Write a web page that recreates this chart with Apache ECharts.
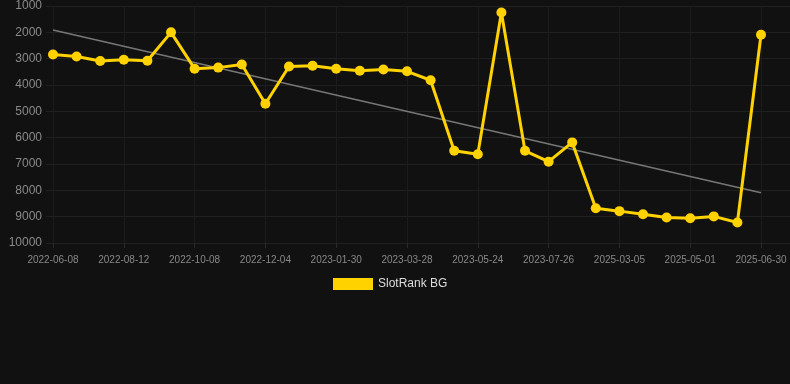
<!DOCTYPE html>
<html>
<head>
<meta charset="utf-8">
<script src="https://cdn.jsdelivr.net/npm/echarts@6/dist/echarts.min.js"></script>
<style>
  html, body { margin: 0; padding: 0; background: #111111; }
  #chart { width: 790px; height: 384px; }
</style>
</head>
<body>
<div id="chart"></div>
<script>
// 日期（只显示每隔三个的标签）
var dates = [
    '2022-06-08', '2022-06-30', '2022-07-22', '2022-08-12', '2022-08-31', '2022-09-19',
    '2022-10-08', '2022-10-27', '2022-11-15', '2022-12-04', '2022-12-23', '2023-01-11',
    '2023-01-30', '2023-02-18', '2023-03-09', '2023-03-28', '2023-04-16', '2023-05-05',
    '2023-05-24', '2023-06-13', '2023-07-05', '2023-07-26', '2023-08-15', '2025-02-14',
    '2025-03-05', '2025-03-24', '2025-04-12', '2025-05-01', '2025-05-20', '2025-06-10',
    '2025-06-30'
];
// 排名
var ranks = [
    2840, 2920, 3090, 3040, 3080, 2000, 3380, 3340, 3220, 4710,
    3300, 3270, 3380, 3460, 3410, 3480, 3820, 6500, 6630, 1250,
    6500, 6910, 6180, 8680, 8790, 8910, 9030, 9060, 8990, 9220,
    2090
];
// 趋势线（首尾两点）
var trend = [1910, 8090];
var yTicks = [1000, 10000, 1000]; // min, max, interval

var trendData = dates.map(function(d, i) {
    if (i === 0) return trend[0];
    if (i === dates.length - 1) return trend[1];
    return null;
});

var myChart = echarts.init(document.getElementById('chart'));

var option = {
    backgroundColor: '#111111',
    animation: false,
    legend: {
        data: ['SlotRank BG'],
        left: 328,
        top: 273,
        icon: 'rect',
        itemWidth: 40,
        itemHeight: 12,
        itemGap: 5,
        textStyle: { color: '#dddddd', fontSize: 12, fontFamily: 'Liberation Sans, Arial' }
    },
    grid: [
        { left: 46, right: 0, top: 6, bottom: 141 },
        { left: 53, right: 29, top: 6, bottom: 141 }
    ],
    xAxis: [
        {
            gridIndex: 0, type: 'category', data: dates, show: false
        },
        {
            gridIndex: 1,
            type: 'category',
            data: dates,
            boundaryGap: false,
            axisLine: { show: false },
            axisTick: { show: true, interval: 2, length: 5, lineStyle: { color: '#2a2a2a' } },
            axisLabel: {
                interval: 2,
                color: '#888888',
                fontSize: 10,
                margin: 12,
                fontFamily: 'Liberation Sans, Arial'
            },
            splitLine: { show: true, interval: 2, lineStyle: { color: '#1c1c1c' } }
        }
    ],
    yAxis: [
        {
            gridIndex: 0,
            type: 'value',
            inverse: true,
            min: yTicks[0],
            max: yTicks[1],
            interval: yTicks[2],
            axisLine: { show: false },
            axisTick: { show: false },
            axisLabel: {
                color: '#8a8a8a',
                fontSize: 12,
                margin: 4,
                fontFamily: 'Liberation Sans, Arial',
                formatter: function(v) { return String(v); }
            },
            splitLine: { lineStyle: { color: '#202020' } }
        },
        {
            gridIndex: 1,
            type: 'value',
            inverse: true,
            min: yTicks[0],
            max: yTicks[1],
            interval: yTicks[2],
            show: false,
            splitLine: { show: false }
        }
    ],
    series: [
        {
            name: 'trend',
            type: 'line',
            xAxisIndex: 1,
            yAxisIndex: 1,
            data: trendData,
            connectNulls: true,
            symbol: 'none',
            lineStyle: { color: '#777777', width: 1.5 },
            silent: true
        },
        {
            name: 'SlotRank BG',
            type: 'line',
            xAxisIndex: 1,
            yAxisIndex: 1,
            data: ranks,
            symbol: 'circle',
            symbolSize: 10,
            itemStyle: { color: '#ffd200' },
            lineStyle: { color: '#ffd200', width: 3 }
        }
    ]
};

myChart.setOption(option);
</script>
</body>
</html>
